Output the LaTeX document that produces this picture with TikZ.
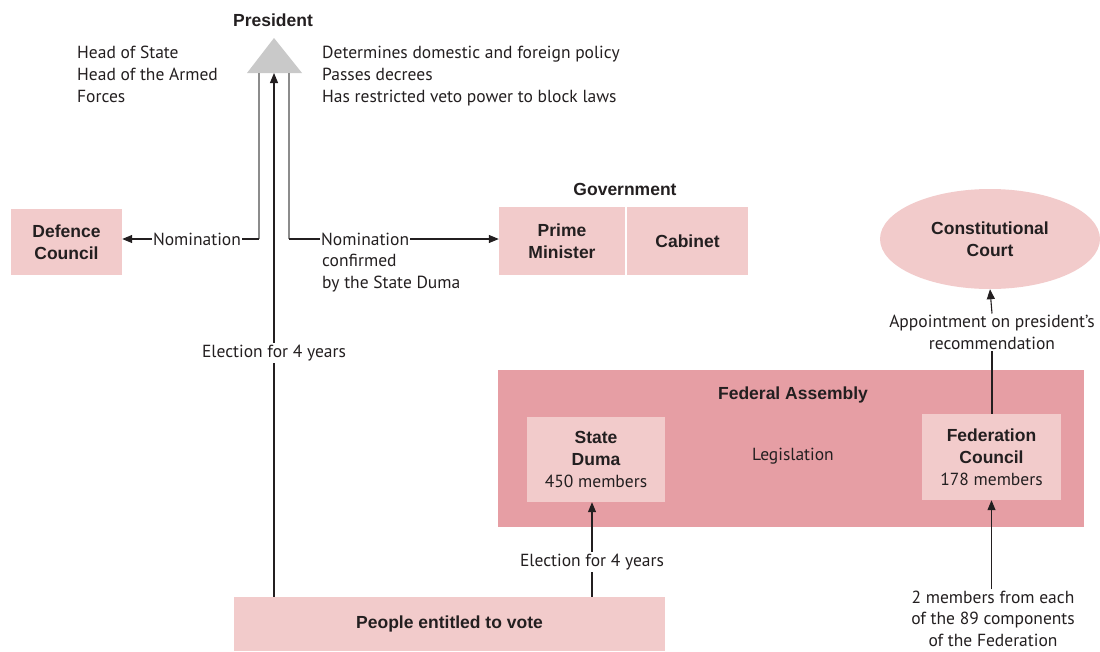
\documentclass[tikz,border=0pt]{standalone}
\usepackage{fontspec}
\setmainfont{PT Sans}
\newfontfamily\boldfam{Liberation Sans}
\usetikzlibrary{arrows.meta,shapes.geometric}
\definecolor{lpink}{HTML}{F2CBCB}
\definecolor{dpink}{HTML}{E69EA4}
\definecolor{trigray}{HTML}{C9C9C9}
\definecolor{txt}{HTML}{231F20}
\definecolor{gline}{HTML}{8C8C8C}
\newcommand{\bl}{\boldfam\bfseries\fontsize{17.5}{22}\selectfont}
\begin{document}
\begin{tikzpicture}[x=1pt,y=-1pt,
  font=\fontsize{17.5}{22}\selectfont, text=txt,
  box/.style={fill=lpink, draw=none, align=center, inner sep=0pt},
  lbl/.style={inner sep=2pt, align=center},
  bold/.style={font=\bl},
  arr/.style={draw=txt, line width=1.1pt, -{Triangle[length=10pt,width=8pt]}},
  ln/.style={draw=txt, line width=1.1pt},
  gln/.style={draw=gline, line width=1.1pt}]
\useasboundingbox (0,0) rectangle (1100,651);

% President
\node[bold] (pres) at (273,20) {President};
\coordinate (apex) at (274,38);
\coordinate (tribase) at (274,73);
\fill[trigray] (apex) -- (302,73) -- (247,73) -- cycle;
\coordinate (gl) at (259,73);
\coordinate (gr) at (289,73);

\node[anchor=west, align=left, inner sep=0pt] (leftinfo) at (77,74.5)
  {Head of State\\Head of the Armed\\Forces};
\node[anchor=west, align=left, inner sep=0pt] (rightinfo) at (322,76)
  {Determines domestic and foreign policy\\Passes decrees\\Has restricted veto power to block laws};

% Defence Council
\node[box, bold, minimum width=111pt, minimum height=66pt] (defence) at (66.5,242) {Defence\\Council};

% Government
\node[bold] (gov) at (625,189) {Government};
\node[box, bold, minimum width=126pt, minimum height=68pt] (pm) at (562,241) {Prime\\Minister};
\node[box, bold, minimum width=121pt, minimum height=68pt] (cab) at (687.5,241) {Cabinet};

% Nominations
\node[lbl, inner sep=1pt] (nom1) at (197,239) {Nomination};
\node[lbl, inner sep=1pt, anchor=west] (nom2) at (320,239) {Nomination};
\node[anchor=west, align=left, inner sep=0pt] (conf) at (322,273) {confirmed\\by the State Duma};

\draw[gln] (gl) -- (gl |- nom1);
\draw[ln] (gl |- nom1) -- (nom1.east);
\draw[arr] (nom1.west) -- (nom1.west -| defence.east);
\draw[gln] (gr) -- (gr |- nom2);
\draw[ln] (gr |- nom2) -- (nom2.west);
\draw[arr] (nom2.east) -- (nom2.east -| pm.west);

% Constitutional court
\node[ellipse, fill=lpink, minimum width=220pt, minimum height=100pt, inner sep=0pt, align=center, bold] (court) at (990,239) {Constitutional\\Court};

% Federal Assembly
\node[fill=dpink, minimum width=586pt, minimum height=157pt, inner sep=0pt] (fa) at (791,448.5) {};
\node[bold] (falbl) at (793,395) {Federal Assembly};
\node[box, minimum width=138pt, minimum height=85pt] (sd) at (596,459.5)
  {{\bl State}\\{\bl Duma}\\450 members};
\node[box, minimum width=139pt, minimum height=86pt] (fc) at (991.5,457)
  {{\bl Federation}\\{\bl Council}\\178 members};
\node (legis) at (793,456) {Legislation};

% People
\node[box, bold, minimum width=431pt, minimum height=54pt] (people) at (449.5,624) {People entitled to vote};

% Election labels
\node[fill=white, lbl] (elec1) at (274,353) {Election for 4 years};
\node[fill=white, lbl] (elec2) at (592,562) {Election for 4 years};
\node[fill=white, lbl, inner sep=1pt] (appoint) at (992,332) {Appointment on president’s\\recommendation};
\node[lbl, inner sep=1pt, font=\fontsize{17.5}{21.5}\selectfont] (members) at (993,618.5) {2 members from each\\of the 89 components\\of the Federation};

% Connectors
\draw[ln] (people.north -| tribase) -- (elec1.south);
\draw[arr] (elec1.north) -- (tribase);
\draw[ln] (people.north -| elec2) -- (elec2.south);
\draw[arr] (elec2.north) -- (sd.south -| elec2);
\draw[ln] (fc.north -| appoint) -- (appoint.south);
\draw[arr] (appoint.north) -- (court.south);
\draw[arr] (members.north -| fc) -- (fc.south);
\end{tikzpicture}
\end{document}
